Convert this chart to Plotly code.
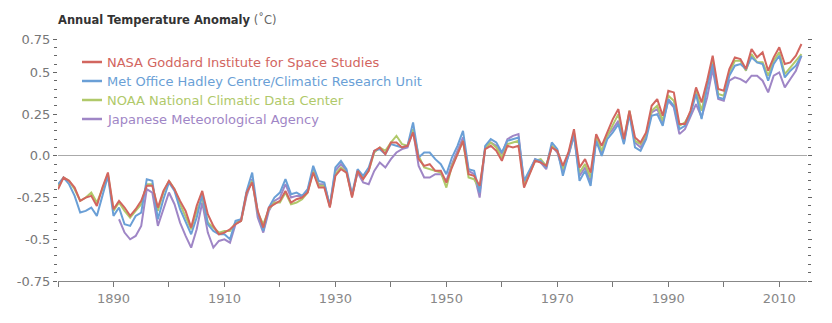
import numpy as np
import plotly.graph_objects as go

years = list(range(1880, 2015))
jma_years = list(range(1891, 2015))

nasa = [-0.20, -0.13, -0.15, -0.19, -0.27, -0.25, -0.24, -0.30, -0.19, -0.10,
        -0.32, -0.27, -0.31, -0.36, -0.32, -0.27, -0.18, -0.18, -0.31, -0.21,
        -0.15, -0.20, -0.27, -0.33, -0.43, -0.30, -0.21, -0.35, -0.42, -0.47,
        -0.46, -0.44, -0.41, -0.39, -0.22, -0.16, -0.33, -0.43, -0.31, -0.29,
        -0.27, -0.21, -0.28, -0.26, -0.25, -0.22, -0.10, -0.19, -0.19, -0.31,
        -0.12, -0.08, -0.10, -0.25, -0.09, -0.14, -0.09, 0.03, 0.05, 0.01,
        0.08, 0.08, 0.05, 0.06, 0.14, -0.02, -0.06, -0.05, -0.09, -0.09,
        -0.16, -0.07, 0.01, 0.09, -0.11, -0.12, -0.18, 0.04, 0.06, 0.03,
        -0.03, 0.06, 0.05, 0.06, -0.19, -0.11, -0.03, -0.04, -0.06, 0.05,
        0.03, -0.06, 0.02, 0.16, -0.07, -0.02, -0.10, 0.13, 0.06, 0.14,
        0.22, 0.28, 0.10, 0.27, 0.11, 0.08, 0.14, 0.30, 0.34, 0.24,
        0.39, 0.38, 0.19, 0.19, 0.27, 0.41, 0.32, 0.45, 0.60, 0.40,
        0.39, 0.52, 0.59, 0.58, 0.52, 0.64, 0.59, 0.62, 0.51, 0.59,
        0.65, 0.55, 0.56, 0.60, 0.67]

metoffice = [-0.17, -0.13, -0.17, -0.24, -0.34, -0.33, -0.31, -0.36, -0.24, -0.12,
             -0.36, -0.31, -0.41, -0.42, -0.36, -0.34, -0.14, -0.15, -0.38, -0.26,
             -0.16, -0.21, -0.32, -0.39, -0.47, -0.37, -0.23, -0.41, -0.45, -0.47,
             -0.47, -0.50, -0.39, -0.38, -0.21, -0.10, -0.34, -0.45, -0.31, -0.25,
             -0.22, -0.14, -0.23, -0.22, -0.24, -0.20, -0.06, -0.15, -0.16, -0.30,
             -0.07, -0.03, -0.08, -0.23, -0.08, -0.12, -0.07, 0.03, 0.04, 0.01,
             0.07, 0.06, 0.05, 0.06, 0.20, -0.01, 0.02, 0.02, -0.02, -0.05,
             -0.11, -0.01, 0.06, 0.15, -0.08, -0.09, -0.22, 0.06, 0.10, 0.08,
             0.02, 0.09, 0.10, 0.11, -0.15, -0.08, -0.02, -0.03, -0.07, 0.08,
             0.04, -0.12, 0.00, 0.13, -0.15, -0.09, -0.18, 0.09, 0.00, 0.10,
             0.14, 0.19, 0.07, 0.25, 0.05, 0.03, 0.10, 0.24, 0.25, 0.18,
             0.34, 0.30, 0.16, 0.18, 0.25, 0.37, 0.22, 0.41, 0.55, 0.35,
             0.34, 0.48, 0.54, 0.55, 0.52, 0.59, 0.56, 0.55, 0.45, 0.55,
             0.60, 0.47, 0.51, 0.54, 0.60]

noaa = [-0.18, -0.13, -0.15, -0.20, -0.27, -0.25, -0.22, -0.28, -0.20, -0.11,
        -0.33, -0.28, -0.33, -0.37, -0.33, -0.29, -0.17, -0.17, -0.33, -0.22,
        -0.15, -0.20, -0.29, -0.36, -0.44, -0.33, -0.25, -0.40, -0.43, -0.46,
        -0.45, -0.45, -0.40, -0.39, -0.22, -0.15, -0.34, -0.41, -0.32, -0.28,
        -0.28, -0.22, -0.29, -0.28, -0.26, -0.22, -0.09, -0.18, -0.18, -0.30,
        -0.11, -0.07, -0.10, -0.24, -0.09, -0.13, -0.09, 0.02, 0.05, 0.03,
        0.08, 0.12, 0.07, 0.06, 0.16, 0.00, -0.07, -0.08, -0.09, -0.10,
        -0.19, -0.06, 0.01, 0.09, -0.13, -0.14, -0.20, 0.05, 0.08, 0.05,
        -0.01, 0.07, 0.08, 0.09, -0.18, -0.10, -0.03, -0.02, -0.06, 0.06,
        0.03, -0.08, 0.01, 0.14, -0.10, -0.05, -0.13, 0.12, 0.03, 0.12,
        0.19, 0.25, 0.09, 0.27, 0.09, 0.07, 0.13, 0.27, 0.30, 0.21,
        0.36, 0.33, 0.18, 0.20, 0.26, 0.39, 0.27, 0.43, 0.58, 0.37,
        0.36, 0.50, 0.57, 0.57, 0.51, 0.61, 0.56, 0.56, 0.48, 0.57,
        0.62, 0.49, 0.53, 0.57, 0.61]

jma = [-0.38, -0.46, -0.50, -0.48, -0.42, -0.20, -0.22, -0.42, -0.32,
       -0.22, -0.29, -0.40, -0.48, -0.55, -0.44, -0.28, -0.46, -0.55, -0.51,
       -0.50, -0.52, -0.41, -0.39, -0.24, -0.14, -0.37, -0.46, -0.33, -0.27,
       -0.25, -0.17, -0.25, -0.24, -0.24, -0.21, -0.08, -0.17, -0.17, -0.30,
       -0.09, -0.05, -0.09, -0.24, -0.10, -0.16, -0.17, -0.09, -0.04, -0.07,
       -0.02, 0.02, 0.04, 0.05, 0.15, -0.06, -0.13, -0.13, -0.11, -0.11,
       -0.15, -0.05, 0.03, 0.11, -0.09, -0.11, -0.25, 0.05, 0.08, 0.06,
       0.01, 0.10, 0.12, 0.13, -0.17, -0.09, -0.02, -0.04, -0.08, 0.06,
       0.02, -0.09, 0.00, 0.12, -0.12, -0.07, -0.16, 0.10, 0.01, 0.12,
       0.16, 0.21, 0.08, 0.26, 0.08, 0.05, 0.12, 0.26, 0.28, 0.20,
       0.33, 0.29, 0.13, 0.16, 0.24, 0.31, 0.23, 0.35, 0.52, 0.34,
       0.33, 0.45, 0.47, 0.46, 0.44, 0.48, 0.48, 0.45, 0.38, 0.48,
       0.50, 0.41, 0.46, 0.51, 0.60]

series_names = ["NASA Goddard Institute for Space Studies",
                "Met Office Hadley Centre/Climatic Research Unit",
                "NOAA National Climatic Data Center",
                "Japanese Meteorological Agency"]
colors = ["#d2665f", "#6a9fd6", "#b0c96a", "#9f86c6"]

x_tickvals = list(range(1880, 2011, 10))
x_ticktext = ["", "1890", "", "1910", "", "1930", "", "1950", "", "1970", "", "1990", "", "2010"]
y_tickvals = [0.70, 0.5, 0.25, 0.0, -0.25, -0.5, -0.75]
y_ticktext = ["0.75", "0.5", "0.25", "0.0", "-0.25", "-0.5", "-0.75"]

fig = go.Figure()
# draw order: JMA, NOAA, Met Office, NASA (NASA on top)
fig.add_trace(go.Scatter(x=jma_years, y=jma, mode="lines", name=series_names[3],
                         line=dict(color=colors[3], width=2)))
fig.add_trace(go.Scatter(x=years, y=noaa, mode="lines", name=series_names[2],
                         line=dict(color=colors[2], width=2)))
fig.add_trace(go.Scatter(x=years, y=metoffice, mode="lines", name=series_names[1],
                         line=dict(color=colors[1], width=2)))
fig.add_trace(go.Scatter(x=years, y=nasa, mode="lines", name=series_names[0],
                         line=dict(color=colors[0], width=2)))

W, H = 832, 323
L, R, T, B = 58, 25, 39, 42
pw, ph = W - L - R, H - T - B

def px_x(px):
    return (px - L) / pw

def px_y(py):
    return (H - B - py) / ph

# manual legend
legend_rows = [62, 81, 100, 119]
shapes = []
annotations = []
for i, name in enumerate(series_names):
    yy = px_y(legend_rows[i])
    shapes.append(dict(type="line", xref="paper", yref="paper",
                       x0=px_x(82), x1=px_x(102), y0=yy, y1=yy,
                       line=dict(color=colors[i], width=2.5)))
    annotations.append(dict(text=name, xref="paper", yref="paper",
                            x=px_x(105), y=yy, xanchor="left", yanchor="middle",
                            showarrow=False,
                            font=dict(family="DejaVu Sans", size=13, color=colors[i])))

annotations.append(dict(text="<b>Annual Temperature Anomaly</b><span style='color:#666'> (˚C)</span>",
                        xref="paper", yref="paper", x=px_x(56), y=px_y(20),
                        xanchor="left", yanchor="middle", showarrow=False,
                        font=dict(family="DejaVu Sans", size=11.5, color="#333")))

fig.update_layout(
    width=W, height=H,
    margin=dict(l=L, r=R, t=T, b=B),
    paper_bgcolor="white", plot_bgcolor="white",
    showlegend=False,
    shapes=shapes, annotations=annotations,
    xaxis=dict(range=[1880, 2015], tickmode="array", tickvals=x_tickvals, ticktext=x_ticktext,
               ticks="outside", ticklen=5, tickcolor="#777", showgrid=False, zeroline=False,
               showline=True, linecolor="#888", linewidth=1,
               tickfont=dict(family="DejaVu Sans", size=13, color="#888")),
    yaxis=dict(range=[-0.75, 0.70], tickmode="array", tickvals=y_tickvals, ticktext=y_ticktext,
               ticks="outside", ticklen=4, tickcolor="#666", showgrid=False,
               zeroline=True, zerolinecolor="#aaa", zerolinewidth=1,
               showline=False, mirror="ticks",
               minor=dict(tickvals=[round(v, 2) for v in np.arange(-0.75, 0.701, 0.05)],
                          ticks="outside", ticklen=3, tickcolor="#666", showgrid=False),
               tickfont=dict(family="DejaVu Sans", size=13, color="#777")),
)

fig.write_html("out.html")
